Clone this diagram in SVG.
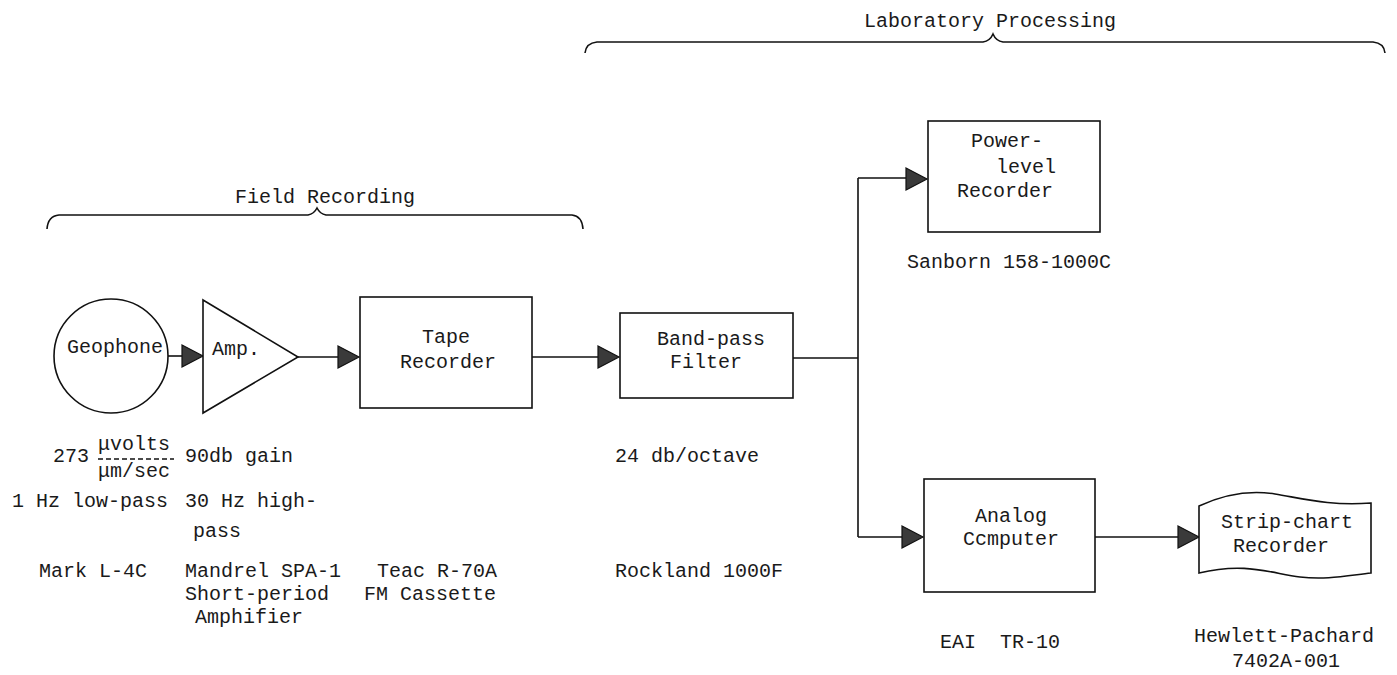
<svg xmlns="http://www.w3.org/2000/svg" width="1397" height="675" viewBox="0 0 1397 675">
<style>
text{font-family:"Liberation Mono","DejaVu Sans Mono",monospace;font-size:20px;fill:#1a1a1a;white-space:pre}
.s{fill:none;stroke:#111;stroke-width:1.6}
.b{fill:#fff;stroke:#111;stroke-width:1.6}
.m{text-anchor:middle}
</style>
<defs>
<path id="ah" d="M-21,-11 L0,0 L-21,11 Z" fill="#3a3a3a" stroke="#111" stroke-width="1.2"/>
</defs>
<rect width="1397" height="675" fill="#fff"/>
<g id="brace-lab">
<path class="s" d="M585,53 Q586,43 597,42 L983,42 Q990,41 993,34 Q996,41 1003,42 L1373,42 Q1384,43 1385,53"/>
<text class="m" x="990" y="27">Laboratory Processing</text>
</g>
<g id="brace-field">
<path class="s" d="M47,229 Q48,216 59,215 L308,215 Q314,214 317,208 Q320,214 326,215 L572,215 Q582,216 583,229"/>
<text class="m" x="325" y="203">Field Recording</text>
</g>
<g id="connectors">
<path class="s" d="M168,356 H184"/>
<path class="s" d="M298,357 H340"/>
<path class="s" d="M532,357 H600"/>
<path class="s" d="M793,358 H858 M858,178 V537 M858,178 H908 M858,537 H904"/>
<path class="s" d="M1095,537 H1180"/>
<use href="#ah" x="203" y="356"/>
<use href="#ah" x="359" y="357"/>
<use href="#ah" x="619" y="357"/>
<use href="#ah" x="927" y="179"/>
<use href="#ah" x="923" y="537"/>
<use href="#ah" x="1199" y="537"/>
</g>
<g id="geophone">
<circle class="b" cx="111" cy="356" r="57"/>
<text class="m" x="115" y="353">Geophone</text>
<text x="53" y="462">273</text>
<text x="98" y="450">μvolts</text>
<path d="M98,459 H174" stroke="#111" stroke-width="1.4" stroke-dasharray="5,3"/>
<text x="98" y="477">μm/sec</text>
<text x="12" y="507">1 Hz low-pass</text>
<text x="39" y="577">Mark L-4C</text>
</g>
<g id="amp">
<path class="b" d="M203,300 L298,357 L203,413 Z"/>
<text x="212" y="355">Amp.</text>
<text x="185" y="462">90db gain</text>
<text x="185" y="507">30 Hz high-</text>
<text x="193" y="537">pass</text>
<text x="185" y="577">Mandrel SPA-1</text>
<text x="185" y="600">Short-period</text>
<text x="195" y="623">Amphifier</text>
</g>
<g id="tape">
<rect class="b" x="360" y="297" width="172" height="111"/>
<text class="m" x="446" y="343">Tape</text>
<text class="m" x="448" y="368">Recorder</text>
<text x="377" y="577">Teac R-70A</text>
<text x="364" y="600">FM Cassette</text>
</g>
<g id="bandpass">
<rect class="b" x="620" y="313" width="173" height="85"/>
<text class="m" x="711" y="345">Band-pass</text>
<text class="m" x="706" y="368">Filter</text>
<text x="615" y="462">24 db/octave</text>
<text x="615" y="577">Rockland 1000F</text>
</g>
<g id="powerlevel">
<rect class="b" x="928" y="121" width="172" height="111"/>
<text x="971" y="147">Power-</text>
<text x="996" y="173">level</text>
<text x="957" y="197">Recorder</text>
<text x="907" y="268">Sanborn 158-1000C</text>
</g>
<g id="analog">
<rect class="b" x="924" y="479" width="171" height="113"/>
<text x="975" y="522">Analog</text>
<text x="963" y="545">Ccmputer</text>
<text x="940" y="648" xml:space="preserve">EAI  TR-10</text>
</g>
<g id="stripchart">
<path class="b" d="M1199,506 C1225,494 1250,490 1275,494 C1305,499 1330,506 1371,503 L1371,573 C1345,576 1325,580 1300,577 C1270,573 1245,562 1199,573 Z"/>
<text x="1221" y="528">Strip-chart</text>
<text x="1233" y="552">Recorder</text>
<text x="1194" y="642">Hewlett-Pachard</text>
<text x="1232" y="667">7402A-001</text>
</g>
</svg>
